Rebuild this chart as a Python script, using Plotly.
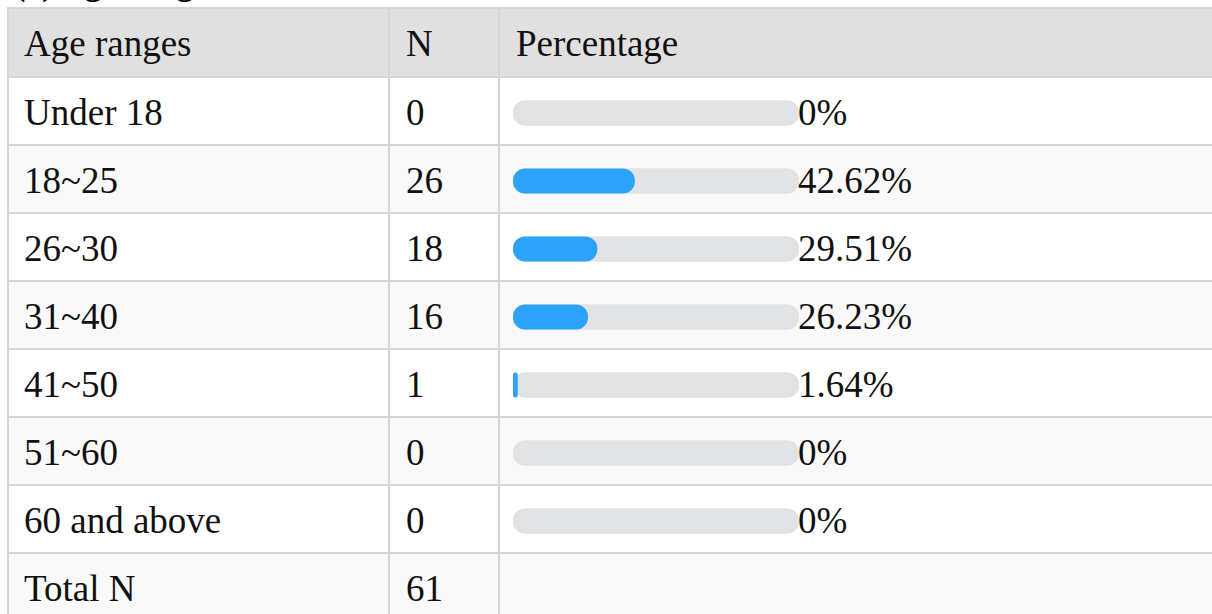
import plotly.graph_objects as go

# ---- data ----
age_ranges = ["Under 18", "18~25", "26~30", "31~40", "41~50", "51~60", "60 and above"]
counts = [0, 26, 18, 16, 1, 0, 0]
percentages = [0, 42.62, 29.51, 26.23, 1.64, 0, 0]
total_n = 61
headers = ["Age ranges", "N", "Percentage"]
title = "(a) Age ranges"

# ---- layout constants (page pixels) ----
W, H = 1212, 614
table_top = 8
header_h = 69
row_h = 68
col_x = [8, 389, 499]          # column left borders
text_pad = 14
track_x0, track_x1 = 513, 799
bar_h = 25
border_col = "#d5d5d5"
font_family = "Liberation Serif, Times New Roman, serif"
fs = 37

body_top = table_top + header_h
n_rows = len(age_ranges) + 1   # body rows + total row


def row_center(i):
    return body_top + row_h * (i + 0.5) + 1


fig = go.Figure()

shapes = []
shapes.append(dict(type="rect", xref="x", yref="y", x0=col_x[0], x1=W + 20,
                   y0=table_top, y1=body_top, fillcolor="#e0e0e0", line_width=0, layer="below"))
for i in range(n_rows):
    if i % 2 == 1:
        shapes.append(dict(type="rect", xref="x", yref="y", x0=col_x[0], x1=W + 20,
                           y0=body_top + row_h * i, y1=body_top + row_h * (i + 1),
                           fillcolor="#f9f9f9", line_width=0, layer="below"))
for yy in [table_top, body_top] + [body_top + row_h * (i + 1) for i in range(n_rows)]:
    shapes.append(dict(type="line", xref="x", yref="y", x0=col_x[0] - 1, x1=W + 20,
                       y0=yy, y1=yy, line=dict(color=border_col, width=2), layer="below"))
for xx in col_x:
    shapes.append(dict(type="line", xref="x", yref="y", x0=xx, x1=xx,
                       y0=table_top, y1=H + 20, line=dict(color=border_col, width=2), layer="below"))

annotations = []
annotations.append(dict(text="<b>" + title + "</b>", xref="x", yref="y", x=12, y=5,
                        xanchor="left", yanchor="bottom", showarrow=False,
                        font=dict(family=font_family, size=34, color="#000")))
hy = table_top + header_h / 2 + 1
for j, h in enumerate(headers):
    annotations.append(dict(text=h, xref="x", yref="y", x=col_x[j] + text_pad + (1 if j else 0), y=hy,
                            xanchor="left", yanchor="middle", showarrow=False,
                            font=dict(family=font_family, size=fs, color="#111")))
for i, (a, n, p) in enumerate(zip(age_ranges, counts, percentages)):
    yc = row_center(i)
    annotations.append(dict(text=a, xref="x", yref="y", x=col_x[0] + text_pad, y=yc,
                            xanchor="left", yanchor="middle", showarrow=False,
                            font=dict(family=font_family, size=fs, color="#111")))
    annotations.append(dict(text=str(n), xref="x", yref="y", x=col_x[1] + text_pad + 1, y=yc,
                            xanchor="left", yanchor="middle", showarrow=False,
                            font=dict(family=font_family, size=fs, color="#111")))
    annotations.append(dict(text=f"{p:g}%", xref="x2", yref="y", x=100, y=yc,
                            xanchor="left", yanchor="middle", showarrow=False, xshift=-3,
                            font=dict(family=font_family, size=fs, color="#111")))
yt = row_center(len(age_ranges))
annotations.append(dict(text="Total N", xref="x", yref="y", x=col_x[0] + text_pad, y=yt,
                        xanchor="left", yanchor="middle", showarrow=False,
                        font=dict(family=font_family, size=fs, color="#111")))
annotations.append(dict(text=str(total_n), xref="x", yref="y", x=col_x[1] + text_pad + 1, y=yt,
                        xanchor="left", yanchor="middle", showarrow=False,
                        font=dict(family=font_family, size=fs, color="#111")))

ys = [row_center(i) + 1 for i in range(len(age_ranges))]
track_col = "#e2e3e5"
blue = "#2ca3f8"
fig.add_trace(go.Bar(x=[100] * len(ys), y=ys, base=[0] * len(ys), orientation="h",
                     width=bar_h, marker=dict(color=track_col, cornerradius=12, line_width=0),
                     xaxis="x2", yaxis="y", hoverinfo="skip", showlegend=False))
fig.add_trace(go.Bar(x=[-100] * len(ys), y=ys, base=[100] * len(ys), orientation="h",
                     width=bar_h, marker=dict(color=track_col, cornerradius=12, line_width=0),
                     xaxis="x2", yaxis="y", hoverinfo="skip", showlegend=False))
fig.add_trace(go.Bar(x=[-p for p in percentages], y=ys, base=percentages, orientation="h",
                     width=bar_h, marker=dict(color=blue, cornerradius=12, line_width=0),
                     xaxis="x2", yaxis="y", hoverinfo="skip", showlegend=False))

fig.update_layout(
    width=W, height=H,
    margin=dict(l=0, r=0, t=0, b=0),
    paper_bgcolor="white", plot_bgcolor="rgba(0,0,0,0)",
    barmode="overlay",
    xaxis=dict(range=[0, W], domain=[0, 1], visible=False, fixedrange=True),
    yaxis=dict(range=[H, 0], domain=[0, 1], visible=False, fixedrange=True),
    xaxis2=dict(range=[0, 100], domain=[track_x0 / W, track_x1 / W], anchor="y",
                visible=False, fixedrange=True),
    shapes=shapes,
    annotations=annotations,
    showlegend=False,
)

fig.write_html("out.html", config={"displayModeBar": False},
               post_script="document.body.style.margin='0';document.body.style.overflow='hidden';")
